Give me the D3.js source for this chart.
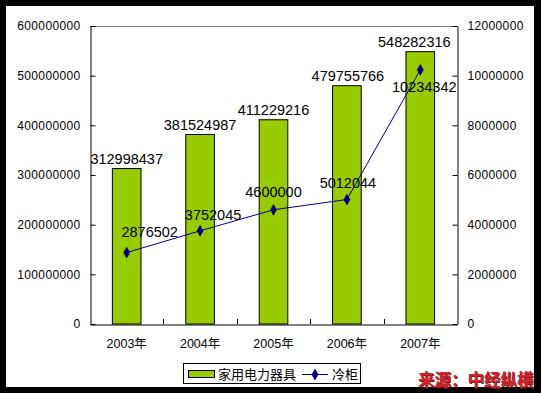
<!DOCTYPE html>
<html>
<head>
<meta charset="utf-8">
<script src="https://cdn.jsdelivr.net/npm/d3@7"></script>
<style>
  html, body { margin: 0; padding: 0; background: #000; }
  svg { display: block; }
  text { font-family: "Liberation Sans", Arial, "Noto Sans CJK SC", sans-serif; fill: #000; }
</style>
</head>
<body>
<svg id="chart" width="541" height="393"></svg>
<script>
// data
var years = ["2003年", "2004年", "2005年", "2006年", "2007年"];
var appliances = [312998437, 381524987, 411229216, 479755766, 548282316];
var freezers = [2876502, 3752045, 4600000, 5012044, 10234342];
var leftTicks = [0, 100000000, 200000000, 300000000, 400000000, 500000000, 600000000];
var rightTicks = [0, 2000000, 4000000, 6000000, 8000000, 10000000, 12000000];
var seriesNames = ["家用电力器具", "冷柜"];

// label nudges (layout only)
var barLabelDx = [0, 0, 0, 1, -6];
var lineLabelDx = [23, 13, 0, 1, 4];
var lineLabelDy = [-16, -11, -13, -12, 22];

var svg = d3.select("#chart");

// white page inside the black frame
svg.append("rect")
    .attr("x", 6).attr("y", 6)
    .attr("width", 528).attr("height", 381)
    .attr("fill", "#fff");

var pLeft = 90, pRight = 457, pTop = 26, pBottom = 324;

var x = d3.scaleBand().domain(years).range([pLeft, pRight]).paddingInner(0).paddingOuter(0);
var yL = d3.scaleLinear().domain([0, 600000000]).range([pBottom, pTop]);
var yR = d3.scaleLinear().domain([0, 12000000]).range([pBottom, pTop]);

// plot frame top (gray)
svg.append("line")
    .attr("x1", pLeft).attr("x2", pRight)
    .attr("y1", pTop + 0.5).attr("y2", pTop + 0.5)
    .attr("stroke", "#808080");

// bars
var barW = x.bandwidth() * 0.39;
svg.selectAll(".bar")
    .data(appliances)
    .enter()
    .append("rect")
    .attr("class", "bar")
    .attr("x", function(d, i) { return x(years[i]) + x.bandwidth() / 2 - barW / 2; })
    .attr("y", function(d) { return yL(d); })
    .attr("width", barW)
    .attr("height", function(d) { return pBottom - yL(d); })
    .attr("fill", "#99cc00")
    .attr("stroke", "#000")
    .attr("stroke-width", 1);

// left axis
var axL = svg.append("g")
    .attr("transform", "translate(" + (pLeft + 0.5) + ",0)")
    .call(d3.axisLeft(yL).tickValues(leftTicks).tickSizeInner(-5).tickSizeOuter(0).tickPadding(10).tickFormat(d3.format("d")));
axL.select(".domain").attr("stroke", "#000");
axL.selectAll("line").attr("stroke", "#000");
axL.selectAll("text")
    .attr("font-size", "12px")
    .attr("letter-spacing", "0.35px")
    .attr("font-family", "Liberation Sans, Arial, sans-serif");

// right axis
var axR = svg.append("g")
    .attr("transform", "translate(" + (pRight + 0.5) + ",0)")
    .call(d3.axisRight(yR).tickValues(rightTicks).tickSizeInner(-5).tickSizeOuter(0).tickPadding(10).tickFormat(d3.format("d")));
axR.select(".domain").attr("stroke", "#000");
axR.selectAll("line").attr("stroke", "#000");
axR.selectAll("text")
    .attr("font-size", "12px")
    .attr("letter-spacing", "0.35px")
    .attr("font-family", "Liberation Sans, Arial, sans-serif");

// bottom axis
var axB = svg.append("g")
    .attr("transform", "translate(0," + (pBottom + 0.5) + ")")
    .call(d3.axisBottom(x).tickSize(0).tickPadding(15));
axB.select(".domain").attr("stroke", "#000");
axB.selectAll("text")
    .attr("font-size", "12.5px")
    .attr("font-family", "Liberation Sans, Arial, Noto Sans CJK SC, sans-serif");
// category dividers
svg.selectAll(".div")
    .data(years.slice(1))
    .enter()
    .append("line")
    .attr("x1", function(d) { return Math.round(x(d)) + 0.5; })
    .attr("x2", function(d) { return Math.round(x(d)) + 0.5; })
    .attr("y1", pBottom)
    .attr("y2", pBottom - 5)
    .attr("stroke", "#000");

// line series
var line = d3.line()
    .x(function(d, i) { return x(years[i]) + x.bandwidth() / 2; })
    .y(function(d) { return yR(d); });

svg.append("path")
    .datum(freezers)
    .attr("d", line)
    .attr("fill", "none")
    .attr("stroke", "#000080")
    .attr("stroke-width", 1);

var diamond = d3.symbol().type(d3.symbolDiamond).size(40);
svg.selectAll(".pt")
    .data(freezers)
    .enter()
    .append("path")
    .attr("class", "pt")
    .attr("d", diamond)
    .attr("transform", function(d, i) {
        return "translate(" + (x(years[i]) + x.bandwidth() / 2) + "," + yR(d) + ")";
    })
    .attr("fill", "#000080");

// bar value labels
svg.selectAll(".blab")
    .data(appliances)
    .enter()
    .append("text")
    .attr("class", "blab")
    .attr("x", function(d, i) { return x(years[i]) + x.bandwidth() / 2 + barLabelDx[i]; })
    .attr("y", function(d) { return yL(d) - 5; })
    .attr("text-anchor", "middle")
    .attr("font-size", "14.5px")
    .text(function(d) { return d; });

// line value labels
svg.selectAll(".llab")
    .data(freezers)
    .enter()
    .append("text")
    .attr("class", "llab")
    .attr("x", function(d, i) { return x(years[i]) + x.bandwidth() / 2 + lineLabelDx[i]; })
    .attr("y", function(d, i) { return yR(d) + lineLabelDy[i]; })
    .attr("text-anchor", "middle")
    .attr("font-size", "14.5px")
    .text(function(d) { return d; });

// legend
var lg = svg.append("g");
lg.append("rect")
    .attr("x", 183.5).attr("y", 363.5)
    .attr("width", 177).attr("height", 20)
    .attr("fill", "#fff")
    .attr("stroke", "#000");
lg.append("rect")
    .attr("x", 188.5).attr("y", 370.5)
    .attr("width", 26).attr("height", 7)
    .attr("fill", "#99cc00")
    .attr("stroke", "#000");
lg.append("text")
    .attr("x", 218).attr("y", 378.5)
    .attr("font-size", "13px")
    .attr("font-family", "Noto Sans CJK SC, sans-serif")
    .text(seriesNames[0]);
lg.append("line")
    .attr("x1", 302).attr("x2", 328)
    .attr("y1", 374.5).attr("y2", 374.5)
    .attr("stroke", "#000080");
lg.append("path")
    .attr("d", diamond)
    .attr("transform", "translate(315,374.5)")
    .attr("fill", "#000080");
lg.append("text")
    .attr("x", 332).attr("y", 378.5)
    .attr("font-size", "13px")
    .attr("font-family", "Noto Sans CJK SC, sans-serif")
    .text(seriesNames[1]);

// source note
svg.append("text")
    .attr("x", 419).attr("y", 387)
    .attr("font-size", "16.5px")
    .attr("font-weight", "bold")
    .attr("font-family", "Noto Sans CJK SC, sans-serif")
    .style("fill", "#7a1a1a")
    .text("来源：中经纵横");
svg.append("text")
    .attr("x", 418).attr("y", 386)
    .attr("font-size", "16.5px")
    .attr("font-weight", "bold")
    .attr("font-family", "Noto Sans CJK SC, sans-serif")
    .style("fill", "#d0242c")
    .text("来源：中经纵横");
</script>
</body>
</html>
